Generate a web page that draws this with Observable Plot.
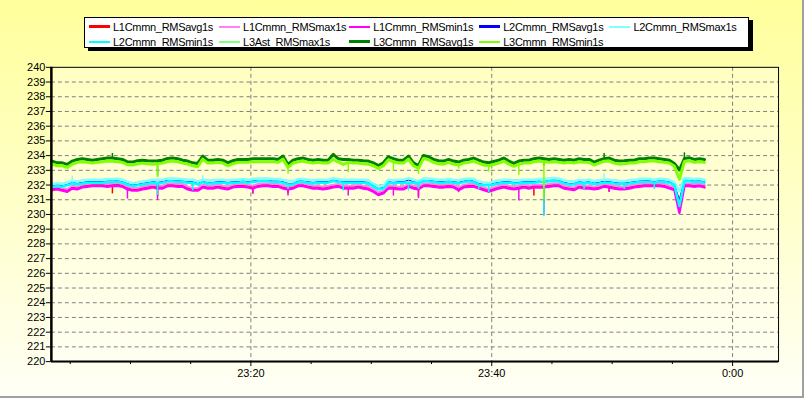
<!DOCTYPE html>
<html><head><meta charset="utf-8">
<script src="https://cdn.jsdelivr.net/npm/d3@7"></script>
<script src="https://cdn.jsdelivr.net/npm/@observablehq/plot@0.6"></script>
<style>
html,body{margin:0;padding:0;background:#fff;}
#wrap{position:relative;width:804px;height:398px;box-sizing:border-box;border-right:2px solid #a0a0a0;border-bottom:2px solid #a0a0a0;background:linear-gradient(to bottom,#ffff9c 0%,#ffffc8 50%,#fffff6 100%);overflow:hidden;font-family:Arial,"Liberation Sans",sans-serif;}
#plotbg{position:absolute;left:51px;top:67px;width:729px;height:295px;background:linear-gradient(to bottom,#ffffc2,#fffff2);}
#chart{position:absolute;left:0;top:0;}
#legend{position:absolute;left:84px;top:17px;width:663px;height:29px;background:#fff;border:1px solid #000;box-shadow:4px 3px 0 #000;}
.item{position:absolute;display:flex;align-items:center;height:15px;font-size:11px;letter-spacing:-0.3px;white-space:nowrap;color:#000;}
.item i{display:inline-block;width:21px;margin-right:3px;}
</style>
</head><body>
<div id="wrap"><div id="plotbg"></div><div id="chart"></div><div id="legend"></div></div>
<script>
// ---- data ----
const seriesNames = ["L1Cmmn_RMSavg1s","L1Cmmn_RMSmax1s","L1Cmmn_RMSmin1s","L2Cmmn_RMSavg1s","L2Cmmn_RMSmax1s","L2Cmmn_RMSmin1s","L3Ast_RMSmax1s","L3Cmmn_RMSavg1s","L3Cmmn_RMSmin1s"];
const seriesColors = ["#ff0000","#ff80ff","#ff00ff","#0000ff","#80ffff","#00ffff","#80ff80","#008000","#80ff00"];
const yTicks = [220,221,222,223,224,225,226,227,228,229,230,231,232,233,234,235,236,237,238,239,240];
const xTickLabels = ["23:20","23:40","0:00"];
const sampleStart = "2020-01-01T23:03:30Z";
const sampleStepSeconds = 25;

const L1avg = [231.77,231.82,231.73,231.66,231.89,231.82,231.95,232.00,232.04,232.04,232.04,232.00,232.04,232.07,232.00,231.82,231.73,231.73,231.82,231.89,231.95,231.89,231.89,232.04,232.04,232.00,232.00,231.82,231.73,231.73,231.95,231.89,231.89,231.95,231.89,231.82,231.95,232.00,232.00,231.95,231.89,232.00,232.04,232.04,232.00,232.00,231.89,231.82,231.89,232.04,232.04,231.95,231.89,231.89,231.82,231.89,231.95,232.00,231.89,231.89,231.89,231.95,231.89,231.82,231.66,231.44,231.55,231.89,231.89,231.82,231.82,232.00,231.89,231.82,232.04,232.04,232.00,231.95,231.95,232.00,231.95,231.77,231.95,232.00,232.00,231.89,231.77,231.66,231.77,231.89,231.95,231.89,231.82,231.89,231.95,231.89,231.95,231.95,231.95,232.00,232.04,232.04,231.89,231.82,231.77,231.95,231.89,231.89,231.82,231.89,232.00,231.95,231.89,231.82,231.82,231.89,231.95,232.00,232.04,232.04,232.04,232.04,232.00,231.89,231.77,230.40,232.04,232.04,232.00,232.04,231.95];
const L1max = [231.84,231.89,231.80,231.73,231.95,231.89,232.02,232.07,232.11,232.11,232.11,232.07,232.11,232.13,232.07,231.89,231.80,231.80,231.89,231.95,232.02,231.95,231.95,232.11,232.11,232.07,232.07,231.89,231.80,231.80,232.02,231.95,231.95,232.02,231.95,231.89,232.02,232.07,232.07,232.02,231.95,232.07,232.11,232.11,232.07,232.07,231.95,231.89,231.95,232.11,232.11,232.02,231.95,231.95,231.89,231.95,232.02,232.07,231.95,231.95,231.95,232.02,231.95,231.89,231.73,231.50,231.62,231.95,231.95,231.89,231.89,232.07,231.95,231.89,232.11,232.11,232.07,232.02,232.02,232.07,232.02,231.84,232.02,232.07,232.07,231.95,231.84,231.73,231.84,231.95,232.02,231.95,231.89,231.95,232.02,231.95,232.02,232.02,232.02,232.07,232.11,232.11,231.95,231.89,231.84,232.02,231.95,231.95,231.89,231.95,232.07,232.02,231.95,231.89,231.89,231.95,232.02,232.07,232.11,232.11,232.11,232.11,232.07,231.95,231.84,231.00,232.11,232.11,232.07,232.11,232.02];
const L1min = [231.66,231.71,231.62,231.55,231.77,231.71,231.84,231.89,231.93,231.93,231.93,231.89,231.93,231.95,231.89,231.71,231.62,231.62,231.71,231.77,231.84,231.77,231.77,231.93,231.93,231.89,231.89,231.71,231.62,231.62,231.84,231.77,231.77,231.84,231.77,231.71,231.84,231.89,231.89,231.84,231.77,231.89,231.93,231.93,231.89,231.89,231.77,231.71,231.77,231.93,231.93,231.84,231.77,231.77,231.71,231.77,231.84,231.89,231.77,231.77,231.77,231.84,231.77,231.71,231.55,231.32,231.44,231.77,231.77,231.71,231.71,231.89,231.77,231.71,231.93,231.93,231.89,231.84,231.84,231.89,231.84,231.66,231.84,231.89,231.89,231.77,231.66,231.55,231.66,231.77,231.84,231.77,231.71,231.77,231.84,231.77,231.84,231.84,231.84,231.89,231.93,231.93,231.77,231.71,231.66,231.84,231.77,231.77,231.71,231.77,231.89,231.84,231.77,231.71,231.71,231.77,231.84,231.89,231.93,231.93,231.93,231.93,231.89,231.77,231.66,230.12,231.93,231.93,231.89,231.93,231.84];
const L2avg = [231.95,232.00,231.95,232.04,232.20,232.11,232.18,232.23,232.23,232.23,232.23,232.27,232.27,232.29,232.23,232.09,232.00,232.04,232.11,232.16,232.23,232.18,232.23,232.32,232.32,232.29,232.27,232.23,232.23,232.11,232.23,232.18,232.18,232.23,232.23,232.18,232.23,232.23,232.27,232.23,232.27,232.32,232.32,232.32,232.27,232.27,232.23,232.11,232.11,232.27,232.27,232.23,232.18,232.23,232.23,232.23,232.34,232.27,232.23,232.23,232.23,232.23,232.23,232.18,231.95,231.77,231.82,232.23,232.18,232.23,232.23,232.34,232.23,232.18,232.32,232.32,232.27,232.23,232.23,232.27,232.23,232.18,232.27,232.32,232.27,232.11,232.04,232.00,232.11,232.18,232.23,232.23,232.18,232.18,232.23,232.23,232.23,232.27,232.23,232.32,232.34,232.32,232.18,232.11,232.11,232.23,232.18,232.23,232.13,232.18,232.27,232.23,232.18,232.13,232.13,232.18,232.23,232.27,232.29,232.29,232.23,232.29,232.27,232.23,232.04,231.00,232.34,232.32,232.27,232.29,232.23];
const L2max = [232.09,232.13,232.09,232.18,232.27,232.25,232.32,232.36,232.36,232.36,232.36,232.41,232.41,232.43,232.36,232.23,232.13,232.18,232.25,232.29,232.36,232.36,232.36,232.45,232.45,232.43,232.41,232.36,232.36,232.25,232.36,232.32,232.32,232.36,232.36,232.32,232.36,232.36,232.41,232.36,232.41,232.45,232.45,232.45,232.41,232.41,232.36,232.30,232.25,232.41,232.41,232.36,232.32,232.36,232.36,232.36,232.47,232.41,232.36,232.36,232.36,232.36,232.36,232.32,232.09,231.91,231.95,232.36,232.32,232.36,232.36,232.47,232.36,232.25,232.45,232.45,232.41,232.36,232.36,232.41,232.36,232.32,232.41,232.45,232.41,232.25,232.18,232.13,232.25,232.32,232.36,232.36,232.32,232.32,232.36,232.36,232.36,232.41,232.41,232.45,232.47,232.45,232.32,232.25,232.25,232.36,232.32,232.36,232.27,232.32,232.36,232.36,232.32,232.27,232.27,232.32,232.36,232.41,232.43,232.43,232.36,232.43,232.41,232.36,232.18,231.60,232.47,232.45,232.41,232.43,232.36];
const L2min = [231.89,231.93,231.89,231.98,232.10,232.04,232.11,232.16,232.16,232.16,232.16,232.20,232.20,232.23,232.16,232.02,231.93,231.98,232.04,232.09,232.16,232.11,232.16,232.25,232.25,232.23,232.20,232.16,232.16,232.04,232.18,232.11,232.11,232.16,232.16,232.11,232.16,232.16,232.20,232.16,232.20,232.25,232.25,232.25,232.20,232.20,232.16,232.04,232.04,232.20,232.20,232.16,232.11,232.16,232.16,232.16,232.27,232.20,232.16,232.16,232.16,232.16,232.16,232.11,231.89,231.71,231.75,232.16,232.11,232.16,232.16,232.16,232.16,232.11,232.25,232.25,232.20,232.16,232.16,232.20,232.16,232.11,232.20,232.25,232.20,232.04,231.98,231.98,232.04,232.11,232.16,232.16,232.11,232.11,232.16,232.16,232.16,232.20,232.20,232.25,232.27,232.25,232.11,232.04,232.04,232.16,232.11,232.16,232.07,232.11,232.16,232.16,232.11,232.07,232.07,232.11,232.16,232.20,232.23,232.23,232.16,232.23,232.20,232.16,231.98,230.58,232.27,232.25,232.20,232.23,232.16];
const L3Astmax = [];
const L3avg = [233.63,233.51,233.51,233.40,233.63,233.74,233.79,233.74,233.69,233.74,233.79,233.83,233.83,233.79,233.74,233.58,233.56,233.65,233.69,233.65,233.63,233.65,233.69,233.81,233.83,233.79,233.69,233.63,233.51,233.47,233.97,233.69,233.69,233.74,233.69,233.51,233.65,233.74,233.74,233.74,233.79,233.79,233.79,233.79,233.79,233.74,233.97,233.40,233.69,233.79,233.83,233.74,233.69,233.74,233.69,233.69,234.08,233.79,233.74,233.74,233.69,233.69,233.65,233.63,233.51,233.33,233.51,233.92,233.79,233.69,233.69,233.97,233.51,233.33,234.01,233.92,233.74,233.65,233.63,233.74,233.63,233.56,233.69,233.74,233.83,233.69,233.56,233.51,233.60,233.69,233.83,233.63,233.47,233.63,233.69,233.69,233.79,233.83,233.79,233.74,233.79,233.74,233.69,233.74,233.69,233.79,233.74,233.74,233.56,233.69,233.79,233.83,233.69,233.63,233.65,233.69,233.69,233.79,233.79,233.83,233.83,233.79,233.74,233.69,233.47,233.02,233.80,233.85,233.74,233.79,233.74];
const L3min = [233.42,233.31,233.31,233.20,233.42,233.54,233.58,233.54,233.49,233.54,233.58,233.63,233.62,233.58,233.54,233.38,233.36,233.45,233.49,233.45,233.42,233.45,233.49,233.60,233.63,233.58,233.49,233.42,233.31,233.24,233.76,233.49,233.49,233.54,233.49,233.31,233.45,233.54,233.54,233.54,233.58,233.58,233.58,233.58,233.58,233.54,233.76,233.20,233.49,233.58,233.63,233.54,233.49,233.54,233.49,233.49,233.75,233.58,233.40,233.54,233.49,233.49,233.45,233.42,233.31,233.13,233.31,233.72,233.58,233.49,233.49,233.76,233.31,233.13,233.81,233.72,233.54,233.45,233.42,233.54,233.42,233.36,233.49,233.54,233.63,233.49,233.36,233.31,233.40,233.49,233.63,233.42,233.27,233.42,233.49,233.49,233.58,233.63,233.58,233.54,233.58,233.54,233.49,233.54,233.49,233.58,233.54,233.54,233.36,233.49,233.62,233.63,233.49,233.42,233.45,233.49,233.49,233.58,233.58,233.63,233.63,233.58,233.54,233.49,233.27,232.39,233.60,233.65,233.54,233.58,233.54];

// short one-second excursions: [sample index, extreme value]
const L1avgDips = [[12,231.40],[21,231.20],[40,231.40],[47,231.40],[73,231.19],[96,231.25],[98,230.80],[111,231.52]];
const L1maxDips = [[21,231.70],[47,231.75],[73,231.60],[98,231.50]];
const L1minDips = [[15,231.05],[21,230.96],[40,231.37],[47,231.25],[59,231.25],[68,231.25],[73,231.07],[81,231.48],[93,230.92],[98,229.95],[111,231.50]];
const L2avgDips = [[21,231.80],[47,232.00],[73,231.95],[98,231.20]];
const L2maxDips = [[4,232.60],[21,232.10],[30,232.63],[98,231.90],[110,232.77]];
const L2minDips = [[21,231.30],[28,231.60],[47,231.70],[58,231.60],[71,231.60],[73,231.70],[85,231.70],[87,231.48],[98,229.85],[106,231.70],[114,231.70],[120,231.70]];
const L3AstmaxDips = [];
const L3avgDips = [[12,234.15],[21,232.60],[98,233.30],[110,234.15],[126,234.19]];
const L3minDips = [[21,232.50],[47,232.73],[59,232.84],[68,232.95],[73,232.72],[81,233.08],[87,232.88],[93,232.66],[98,231.00]];

const seriesValues = [L1avg, L1max, L1min, L2avg, L2max, L2min, L3Astmax, L3avg, L3min];
const seriesDips = [L1avgDips, L1maxDips, L1minDips, L2avgDips, L2maxDips, L2minDips, L3AstmaxDips, L3avgDips, L3minDips];
const seriesWidths = [2, 2, 2.5, 1, 2.5, 2.5, 1, 3, 3];
const legendWidths = [3, 2, 2, 3, 2, 2, 2, 3, 2];

// ---- build ----
const t0 = new Date(sampleStart).getTime();
const timeAt = i => new Date(t0 + i * sampleStepSeconds * 1000);
const utc = (h, m, s = 0, day = 1) => new Date(Date.UTC(2020, 0, day, h, m, s));
const xDomain = [utc(23, 3, 26), utc(0, 3, 49, 2)];
const majorTicks = [utc(23, 20), utc(23, 40), utc(0, 0, 0, 2)];
const minorTicks = [utc(23,5), utc(23,10), utc(23,15), utc(23,25), utc(23,30), utc(23,35), utc(23,45), utc(23,50), utc(23,55)];
const fmt = d => xTickLabels[majorTicks.findIndex(t => +t === +d)] ?? "";

const lineMarks = [];
seriesNames.forEach((name, k) => {
  const vals = seriesValues[k];
  if (!vals.length) return;
  const rows = vals.map((v, i) => ({t: timeAt(i), v, s: name}));
  lineMarks.push(Plot.line(rows, {x: "t", y: "v", stroke: seriesColors[k], strokeWidth: seriesWidths[k], curve: "linear"}));
  const dips = seriesDips[k].map(([i, v]) => ({t: timeAt(i), from: vals[i], to: v}));
  if (dips.length) lineMarks.push(Plot.ruleX(dips, {x: "t", y1: "from", y2: "to", stroke: seriesColors[k], strokeWidth: 1.5}));
});

const chart = Plot.plot({
  width: 804, height: 398,
  marginLeft: 51, marginRight: 24, marginTop: 67, marginBottom: 36,
  style: {background: "transparent", fontFamily: "Arial, 'Liberation Sans', sans-serif", fontSize: "11px", color: "#000"},
  x: {type: "utc", domain: xDomain},
  y: {domain: [220, 240]},
  marks: [
    Plot.ruleY(yTicks.slice(1, -1), {stroke: "#808080", strokeDasharray: "4,3", strokeWidth: 1}),
    Plot.ruleX(majorTicks, {stroke: "#808080", strokeDasharray: "4,3", strokeWidth: 1}),
    ...lineMarks,
    Plot.frame({stroke: "#000", strokeWidth: 1}),
    Plot.ruleX([xDomain[0]], {stroke: "#000", strokeWidth: 2.5}),
    Plot.ruleY([yTicks[0]], {stroke: "#000", strokeWidth: 2}),
    Plot.axisY({ticks: yTicks, tickSize: 5, tickPadding: 1, label: null, fontSize: 11}),
    Plot.axisX({ticks: majorTicks, tickSize: 5, tickPadding: 3, tickFormat: fmt, label: null, fontSize: 11}),
    Plot.axisX({ticks: minorTicks, tickSize: 3, tickFormat: () => "", label: null})
  ]
});
document.getElementById("chart").appendChild(chart);

// legend
const leg = document.getElementById("legend");
seriesNames.forEach((name, k) => {
  const col = k % 5, row = Math.floor(k / 5);
  const it = document.createElement("div");
  it.className = "item";
  it.style.left = (4 + col * 130.1) + "px";
  it.style.top = (1 + row * 15) + "px";
  const ln = document.createElement("i");
  ln.style.height = legendWidths[k] + "px";
  ln.style.background = seriesColors[k];
  it.appendChild(ln);
  it.appendChild(document.createTextNode(name));
  leg.appendChild(it);
});
</script>
</body></html>
